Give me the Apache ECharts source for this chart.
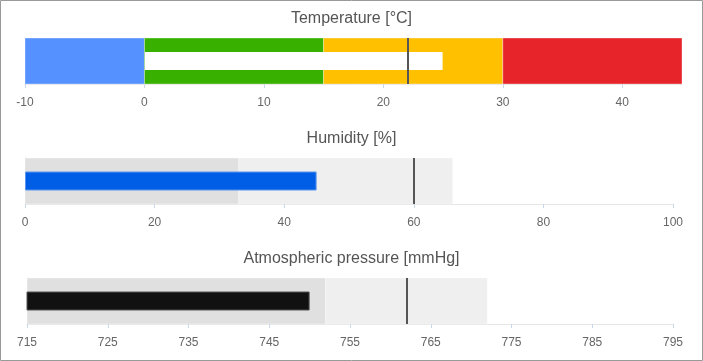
<!DOCTYPE html>
<html>
<head>
<meta charset="utf-8">
<script src="https://cdn.jsdelivr.net/npm/echarts@6/dist/echarts.min.js"></script>
<style>
html,body{margin:0;padding:0;background:#fff;}
#chart{width:703px;height:361px;}
</style>
</head>
<body>
<div id="chart"></div>
<script>
const titles = ['Temperature [°C]', 'Humidity [%]', 'Atmospheric pressure [mmHg]'];
const values = [25, 45, 750];
const targets = [22, 60, 762];
const tempBands = [[-10, 0], [0, 15], [15, 30], [30, 45]];
const humidityBands = [[0, 33], [33, 66]];
const pressureBands = [[715, 752], [752, 772]];
const axisMin = [-10, 0, 715];
const axisMax = [45, 100, 795];
const axisInterval = [10, 20, 10];

const bands = [tempBands, humidityBands, pressureBands];
const bandColors = [
  ['#5591ff', '#37b000', '#ffc000', '#e62429'],
  ['#e0e0e0', '#efefef'],
  ['#e0e0e0', '#efefef']
];
const barColors = ['#ffffff', '#005ee6', '#111111'];
const barBorders = ['rgba(255,255,255,0)', '#5c95ee', '#555555'];
const grids = [
  {left: 25, top: 38, width: 657, height: 46},
  {left: 25, top: 158, width: 648, height: 46},
  {left: 27, top: 278, width: 646, height: 46}
];

const chart = echarts.init(document.getElementById('chart'), null, {renderer: 'canvas'});
const font = 'Liberation Sans, Arial, sans-serif';

const option = {
  animation: false,
  title: titles.map((t, i) => ({
    text: t, left: 'center', top: 11 + 120 * i, padding: 0,
    textStyle: {fontSize: 16, fontWeight: 'normal', color: '#555555', fontFamily: font}
  })),
  grid: grids,
  xAxis: titles.map((t, i) => ({
    type: 'value', gridIndex: i,
    min: axisMin[i], max: axisMax[i], interval: axisInterval[i],
    axisLine: {show: true, lineStyle: {color: '#e6e6e6'}},
    axisTick: {show: true, length: 4, lineStyle: {color: '#ccd6eb'}},
    splitLine: {show: false},
    axisLabel: {color: '#666666', fontSize: 12, margin: 13, fontFamily: font, showMaxLabel: i !== 0}
  })),
  yAxis: titles.map((t, i) => ({
    type: 'category', gridIndex: i, data: [t],
    axisLine: {show: true, lineStyle: {color: '#d8d8d8'}},
    axisTick: {show: false},
    axisLabel: {show: false}
  })),
  series: titles.map((t, i) => ({
    type: 'bar', xAxisIndex: i, yAxisIndex: i,
    data: [values[i]],
    barWidth: 19,
    itemStyle: {color: barColors[i], borderColor: barBorders[i], borderWidth: 1, borderRadius: 0},
    markArea: {
      silent: true,
      data: bands[i].map((b, j) => [
        {xAxis: b[0], itemStyle: {color: bandColors[i][j], borderColor: 'rgba(255,255,255,0.35)', borderWidth: 1}},
        {xAxis: b[1]}
      ])
    },
    markLine: {
      silent: true,
      symbol: ['none', 'none'],
      label: {show: false},
      lineStyle: {color: '#555555', width: 2, type: 'solid'},
      data: [{xAxis: targets[i]}]
    }
  })),
  graphic: [{
    type: 'rect', silent: true, z: 100,
    shape: {x: 0.5, y: 0.5, width: 702, height: 360},
    style: {fill: 'none', stroke: '#999999', lineWidth: 1}
  }]
};
chart.setOption(option);
</script>
</body>
</html>
